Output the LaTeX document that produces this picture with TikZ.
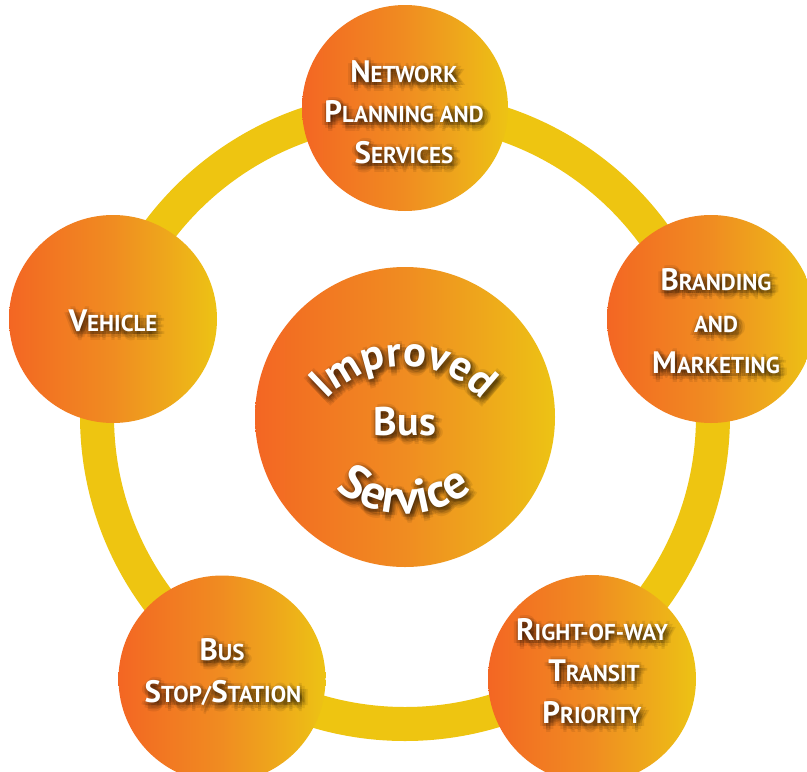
\documentclass[tikz,border=0pt]{standalone}
\usepackage{fontspec}
\setmainfont{PT Sans}
\usetikzlibrary{decorations.text}
\definecolor{ringcol}{RGB}{238,197,17}
\definecolor{oA}{RGB}{243,102,35}
\definecolor{oB}{RGB}{242,118,34}
\definecolor{oC}{RGB}{240,140,33}
\definecolor{oD}{RGB}{238,165,28}
\definecolor{oE}{RGB}{237,195,20}
\pgfdeclarehorizontalshading{bubble}{100bp}{color(0bp)=(oA); color(25bp)=(oA); color(35bp)=(oB); color(50bp)=(oC); color(62bp)=(oD); color(75bp)=(oE); color(100bp)=(oE)}
\newcommand\Bg{\fontsize{31}{31}\selectfont}
\newcommand\Sm{\fontsize{23}{23}\selectfont}
\tikzset{
  ball/.style={circle, shading=bubble, draw=none, inner sep=0pt},
  lbltext/.style={anchor=base, inner sep=0pt, text=white, font=\bfseries},
  glowtext/.style={anchor=base, inner sep=0pt, text=black, text opacity=0.08, font=\bfseries},
}
\newcommand\glowline[4]{%
  \foreach \gx/\gy in {0/0,2/0,-2/0,0/2,0/-2,4/0,-4/0,0/4,0/-4,3/3,3/-3,-3/3,-3/-3,6/0,-6/0,0/6,0/-6}{%
    \node[glowtext] at (#2+2+\gx, -#3-3+\gy) {#4};
  }%
  \node[lbltext] (#1) at (#2,-#3) {#4};
}
\begin{document}
\begin{tikzpicture}[x=1pt,y=1pt]
\useasboundingbox (0,0) rectangle (807,-772);
\clip (0,0) rectangle (807,-772);
\fill[white] (0,0) rectangle (807,-772);
% ring
\draw[ringcol, line width=34pt] (405,-416) circle[radius=308pt];
% circles
\node[ball, minimum size=206pt] (net) at (405,-108) {};
\node[ball, minimum size=208pt] (brand) at (711,-319) {};
\node[ball, minimum size=208pt] (veh) at (113,-319) {};
\node[ball, minimum size=207pt] (stop) at (222,-679) {};
\node[ball, minimum size=208pt] (row) at (592,-679) {};
\node[ball, minimum size=300pt] (core) at (405,-417) {};
% labels
\glowline{net1}{404}{82}{{\Bg N}{\Sm ETWORK}}
\glowline{net2}{404}{122}{{\Bg P}{\Sm LANNING AND}}
\glowline{net3}{404}{163}{{\Bg S}{\Sm ERVICES}}
\glowline{br1}{716}{290}{{\Bg B}{\Sm RANDING}}
\glowline{br2}{716}{332}{{\Sm AND}}
\glowline{br3}{716}{373}{{\Bg M}{\Sm ARKETING}}
\glowline{ve1}{113}{331}{{\Bg V}{\Sm EHICLE}}
\glowline{st1}{222}{660}{{\Bg B}{\Sm US}}
\glowline{st2}{223}{702}{{\Bg S}{\Sm TOP/}{\Bg S}{\Sm TATION}}
\glowline{rw1}{592}{640}{{\Bg R}{\Sm IGHT-OF-WAY}}
\glowline{rw2}{594}{681}{{\Bg T}{\Sm RANSIT}}
\glowline{rw3}{592}{723}{{\Bg P}{\Sm RIORITY}}
\glowline{bus}{405}{435}{\fontsize{40}{40}\selectfont Bus}
% curved texts: glow
\foreach \gx/\gy in {0/0,2/0,-2/0,0/2,0/-2,4/0,-4/0,0/4,0/-4,3/3,3/-3,-3/3,-3/-3,6/0,-6/0,0/6,0/-6}{%
  \begin{scope}[shift={(\gx+2,\gy-3)}, opacity=0.08]
    \path[decorate, decoration={text along path, text align=center,
      text={|\fontsize{43}{43}\selectfont\bfseries\color{black}|Improved}}]
      (404,-472) ++(155:106) arc[start angle=155, end angle=25, radius=106pt];
    \path[decorate, decoration={text along path, text align=center,
      text={|\fontsize{48}{48}\selectfont\bfseries\color{black}|Service}}]
      (404,-408) ++(195:106) arc[start angle=195, end angle=345, radius=106pt];
  \end{scope}
}
% curved texts
\path[decorate, decoration={text along path, text align=center,
  text={|\fontsize{43}{43}\selectfont\bfseries\color{white}|Improved}}]
  (404,-472) coordinate (impc) ++(155:106) arc[start angle=155, end angle=25, radius=106pt];
\path[decorate, decoration={text along path, text align=center,
  text={|\fontsize{48}{48}\selectfont\bfseries\color{white}|Service}}]
  (404,-408) coordinate (serc) ++(195:106) arc[start angle=195, end angle=345, radius=106pt];
\end{tikzpicture}
\end{document}
